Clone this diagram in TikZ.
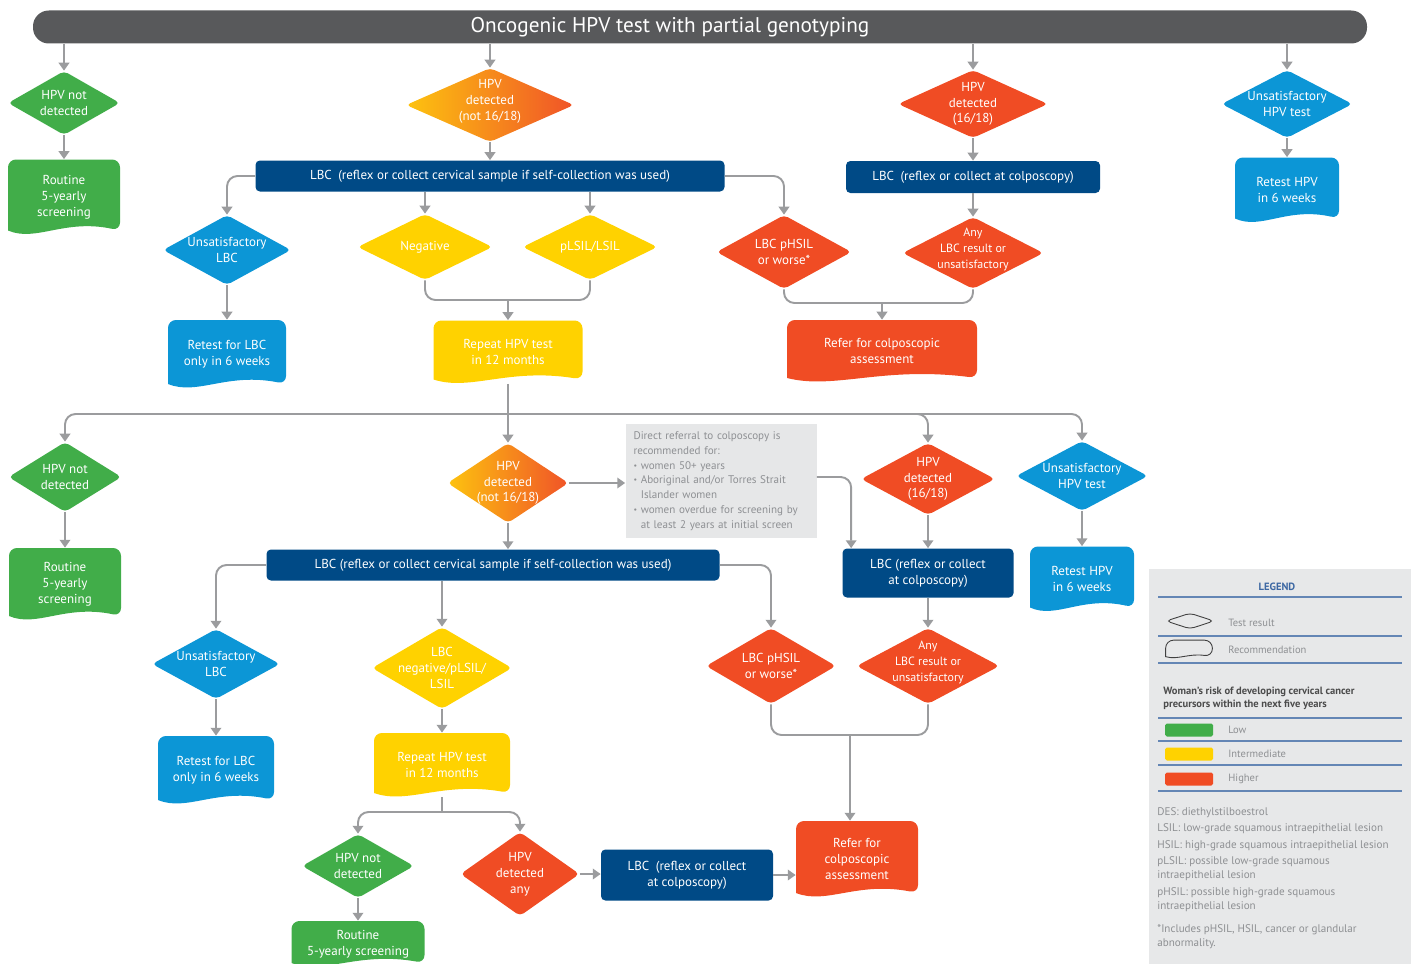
\documentclass[tikz,border=0pt]{standalone}
\usepackage{fontspec}
\setmainfont{PT Sans}
\usepackage{tikz}
\usetikzlibrary{shapes.geometric,arrows.meta,positioning,calc}

\definecolor{barGray}{HTML}{58595B}
\definecolor{lineGray}{HTML}{9B9C9E}
\definecolor{lbcBlue}{HTML}{004A86}
\definecolor{skyBlue}{HTML}{0C96D6}
\definecolor{lowGreen}{HTML}{41AD49}
\definecolor{midYellow}{HTML}{FFD200}
\definecolor{highRed}{HTML}{F04C24}
\definecolor{gradA}{HTML}{FDC30F}
\definecolor{gradB}{HTML}{F05328}
\definecolor{legBg}{HTML}{E7E8E9}
\definecolor{legBlue}{HTML}{3D68A3}
\definecolor{noteText}{HTML}{8E9093}
\definecolor{noteBg}{HTML}{E6E7E8}

\def\u{0.02cm}
\newcommand\nodefont{\fontsize{7.4}{9}\selectfont}
\newcommand\tightfont{\fontsize{6.8}{9}\selectfont}
\newcommand\notefont{\fontsize{6.3}{8.4}\selectfont}
\newcommand\legfont{\fontsize{6}{8}\selectfont}
\newcommand\bul{{\fontsize{4.5}{4.5}\selectfont\raisebox{0.25ex}{\textbullet}}}

% recommendation shape: round top, wavy bottom
\newcommand\wavybox[3][1]{%
  \path[#2] ($(#3.south west)+(0,-4*#1)$) [rounded corners=4.5pt]
    -- (#3.north west) -- (#3.north east)
    -- ($(#3.south east)+(0,-4*#1)$) [sharp corners]
    .. controls ($(#3.south west)!0.5!(#3.south east)+(0,-16*#1)$)
    and ($(#3.south west)!0.25!(#3.south east)+(0,8*#1)$)
    .. ($(#3.south west)+(0,-4*#1)$) -- cycle;}

\begin{document}
\begin{tikzpicture}[x=\u, y=-\u,
  dsize/.style 2 args={minimum width=#1*\u, minimum height=#2*\u},
  test/.style={diamond, inner sep=0pt, rounded corners=2.5pt},
  greentest/.style={test, fill=lowGreen},
  yellowtest/.style={test, fill=midYellow},
  redtest/.style={test, fill=highRed},
  bluetest/.style={test, fill=skyBlue},
  orangetest/.style={test, left color=gradA, right color=gradB},
  every label/.style={text=white, align=center, font=\nodefont},
  rec/.style={rectangle, inner sep=0pt, align=center, text=white, font=\nodefont,
    path picture={\wavybox{fill=#1}{path picture bounding box}}},
  lbc/.style={rectangle, rounded corners=2.5pt, fill=lbcBlue, text=white, align=center, font=\nodefont, inner sep=0pt},
  note/.style={rectangle, fill=noteBg, text=noteText, align=left, font=\notefont, inner sep=0pt, text width=3.5cm},
  titlebar/.style={rectangle, fill=barGray, rounded corners=9pt, text=white, font=\fontsize{12.1}{14}\selectfont},
  arrow/.style={line width=1.1pt, lineGray, rounded corners=6pt, -{Triangle[width=6pt,length=4.5pt]}},
  link/.style={line width=1.1pt, lineGray, rounded corners=6pt},
  legline/.style={line width=0.6pt, legBlue!80},
  legtext/.style={anchor=west, text=noteText, font=\legfont, inner sep=0pt},
  swatch/.style={rectangle, rounded corners=1pt, dsize={48}{13}, inner sep=0pt}
]
\useasboundingbox (0,0) rectangle (1415,963);

% Title
\node[titlebar, dsize={1334}{33}] (title) at (700,27) {\raisebox{-1pt}{Oncogenic HPV test with partial genotyping}\hspace*{1.2cm}};

% First HPV test results
\node[greentest, dsize={112}{64}, label={center:HPV not\\detected}] (nd1) at (64,103) {};
\node[orangetest, dsize={168}{74}, label={[yshift=2pt]center:HPV\\detected\\(not 16/18)}] (hpvo1) at (490,105) {};
\node[redtest, dsize={150}{68}, label={center:HPV\\detected\\(16/18)}] (hpvhi1) at (973,104) {};
\node[bluetest, dsize={131}{68}, label={center:Unsatisfactory\\HPV test}] (unsh1) at (1287,104) {};

\node[rec=lowGreen, dsize={112}{75}] (rout1) at (64,197) {Routine\\5-yearly\\screening};
\node[lbc, dsize={469}{31}] (lbc1) at (490,176) {LBC\enspace(reflex or collect cervical sample if self-collection was used)};
\node[lbc, dsize={254}{32}] (lbc2) at (973,177) {LBC\enspace(reflex or collect at colposcopy)};
\node[rec=skyBlue, dsize={104}{65}] (reth1) at (1287,190) {Retest HPV\\in 6 weeks};

% LBC results
\node[bluetest, dsize={128}{70}, label={center:Unsatisfactory\\LBC}] (unsl1) at (227,250) {};
\node[yellowtest, dsize={135}{66}, label={center:Negative}] (neg1) at (425,247) {};
\node[yellowtest, dsize={135}{66}, label={center:pLSIL/LSIL}] (plsil1) at (590,247) {};
\node[redtest, dsize={135}{74}, label={center:LBC pHSIL\\or worse*}] (phsil1) at (784,252) {};
\node[redtest, dsize={141}{72}, label={[font=\tightfont, yshift=2pt]center:Any\\LBC result or\\unsatisfactory}] (any1) at (973,253) {};

\node[rec=skyBlue, dsize={118}{68}] (retl1) at (227,354) {Retest for LBC\\only in 6 weeks};
\node[rec=midYellow, dsize={149}{63}] (rep1) at (508,352) {Repeat HPV test\\in 12 months};
\node[rec=highRed, dsize={190}{62}] (ref1) at (882,351) {Refer for colposcopic\\assessment};

\coordinate (m1) at (508,300);
\coordinate (m2) at (882,303);
\coordinate (m3) at (508,414);

\foreach \n in {nd1,hpvo1,hpvhi1,unsh1}
  \draw[arrow] (title.south -| \n.north) -- (\n.north);
\draw[arrow] (nd1.south) -- (rout1.north);
\draw[arrow] (hpvo1.south) -- (hpvo1.south |- lbc1.north);
\draw[arrow] (hpvhi1.south) -- (hpvhi1.south |- lbc2.north);
\draw[arrow] (unsh1.south) -- (reth1.north);
\draw[arrow] (lbc1.west) -| (unsl1.north);
\draw[arrow] (lbc1.south -| neg1.north) -- (neg1.north);
\draw[arrow] (lbc1.south -| plsil1.north) -- (plsil1.north);
\draw[arrow] (lbc1.east) -| (phsil1.north);
\draw[arrow] (lbc2.south -| any1.north) -- (any1.north);
\draw[arrow] (unsl1.south) -- (retl1.north);
\draw[link] (neg1.south) |- (m1) -| (plsil1.south);
\draw[arrow] (m1) -- (rep1.north);
\draw[link] (phsil1.south) |- (m2) -| (any1.south);
\draw[arrow] (m2) -- (ref1.north);

% Repeat HPV test results
\node[greentest, dsize={113}{70}, label={center:HPV not\\detected}] (nd2) at (65,477) {};
\node[orangetest, dsize={121}{80}, label={center:HPV\\detected\\(not 16/18)}] (hpvo2) at (508,483) {};
\node[note, dsize={191}{114}] (note) at (721,481) {Direct referral to colposcopy is\\
recommended for:\\
\bul\ women 50+ years\\
\bul\ Aboriginal and/or Torres Strait\\
\phantom{\bul\ }Islander women\\
\bul\ women overdue for screening by\\
\phantom{\bul\ }at least 2 years at initial screen};
\node[redtest, dsize={134}{72}, label={center:HPV\\detected\\(16/18)}] (hpvhi2) at (928,479) {};
\node[bluetest, dsize={132}{70}, label={center:Unsatisfactory\\HPV test}] (unsh2) at (1082,476) {};

\node[rec=lowGreen, dsize={112}{72}] (rout2) at (65,584) {Routine\\5-yearly\\screening};
\node[lbc, dsize={453}{31}] (lbc3) at (493,565) {LBC (reflex or collect cervical sample if self-collection was used)};
\node[lbc, dsize={171}{49}] (lbc4) at (928,573) {LBC (reflex or collect\\at colposcopy)};
\node[rec=skyBlue, dsize={104}{65}] (reth2) at (1082,579) {Retest HPV\\in 6 weeks};

\draw[link] (rep1.south) -- (m3);
\draw[arrow] (m3) -| (nd2.north);
\draw[arrow] (m3) -- (hpvo2.north);
\draw[arrow] (m3) -| (hpvhi2.north);
\draw[arrow] (m3) -| (unsh2.north);
\draw[arrow] (nd2.south) -- (rout2.north);
\draw[arrow] (hpvo2.east) -- (hpvo2.east -| note.west);
\draw[arrow] ([yshift=4*\u]note.east) -| ($(lbc4.north west)+(9,0)$);
\draw[arrow] (hpvo2.south) -- (hpvo2.south |- lbc3.north);
\draw[arrow] (hpvhi2.south) -- (lbc4.north);
\draw[arrow] (unsh2.south) -- (reth2.north);

% LBC results after repeat test
\node[bluetest, dsize={128}{70}, label={center:Unsatisfactory\\LBC}] (unsl2) at (216,664) {};
\node[yellowtest, dsize={140}{82}, label={center:LBC\\negative/pLSIL/\\LSIL}] (lneg2) at (442,668) {};
\node[redtest, dsize={130}{76}, label={center:LBC pHSIL\\or worse*}] (phsil2) at (771,666) {};
\node[redtest, dsize={143}{76}, label={[font=\tightfont, yshift=2pt]center:Any\\LBC result or\\unsatisfactory}] (any2) at (928,666) {};

\node[rec=skyBlue, dsize={116}{68}] (retl2) at (216,770) {Retest for LBC\\only in 6 weeks};
\node[rec=midYellow, dsize={136}{64}] (rep2) at (442,765) {Repeat HPV test\\in 12 months};
\node[rec=highRed, dsize={122}{76}] (ref2) at (857,859) {Refer for\\colposcopic\\assessment};

\coordinate (m4) at (850,735);
\coordinate (m5) at (442,812);

\draw[arrow] (lbc3.west) -| (unsl2.north);
\draw[arrow] (lbc3.south -| lneg2.north) -- (lneg2.north);
\draw[arrow] (lbc3.east) -| (phsil2.north);
\draw[arrow] (lbc4.south) -- (any2.north);
\draw[arrow] (unsl2.south) -- (retl2.north);
\draw[arrow] (lneg2.south) -- (rep2.north);
\draw[link] (phsil2.south) |- (m4) -| (any2.south);
\draw[arrow] (m4) -- (m4 |- ref2.north);

% Third HPV test
\node[greentest, dsize={112}{64}, label={center:HPV not\\detected}] (nd3) at (358,866) {};
\node[redtest, dsize={119}{84}, label={center:HPV\\detected\\any}] (hpva) at (520,874) {};
\node[lbc, dsize={172}{51}] (lbc5) at (687,875) {LBC\enspace(reflex or collect\\at colposcopy)};
\node[rec=lowGreen, dsize={133}{46}] (rout3) at (358,944) {Routine\\5-yearly screening};

\draw[link] (rep2.south) -- (m5);
\draw[arrow] (m5) -| (nd3.north);
\draw[arrow] (m5) -| (hpva.north);
\draw[arrow] (nd3.south) -- (rout3.north);
\draw[arrow] (hpva.east) -- (hpva.east -| lbc5.west);
\draw[arrow] (lbc5.east) -- (lbc5.east -| ref2.west);

% Legend
\node[rectangle, fill=legBg, dsize={262}{400}, inner sep=0pt] (legend) at (1280,769) {};
\node[text=legBlue, font=\bfseries\legfont] (legtitle) at (1277,587) {LEGEND};
\foreach \y in {597,636,663,718,741,765,791}
  \draw[legline] (1158,\y) -- (1402,\y);
\node[test, draw=black!75, line width=0.5pt, dsize={48}{16}] (legtest) at (1190,621) {};
\node[legtext] (legtesttxt) at (1228,623) {Test result};
\node[rectangle, inner sep=0pt, dsize={46}{17}] (legrec) at (1189,649) {};
\wavybox[0.3]{draw=black!75, line width=0.5pt}{legrec}
\node[legtext] (legrectxt) at (1228,650) {Recommendation};
\node[anchor=west, align=left, inner sep=0pt, text=black!70, font=\bfseries\fontsize{6}{7.2}\selectfont] (risk) at (1163,698) {Woman’s risk of developing cervical cancer\\precursors within the next five years};
\node[swatch, fill=lowGreen] (lowsw) at (1189,730) {};
\node[legtext] (lowtxt) at (1228,730) {Low};
\node[swatch, fill=midYellow] (midsw) at (1189,754) {};
\node[legtext] (midtxt) at (1228,754) {Intermediate};
\node[swatch, fill=highRed] (highsw) at (1189,779) {};
\node[legtext] (hightxt) at (1228,779) {Higher};
\node[anchor=north west, align=left, inner sep=0pt, text=noteText, font=\fontsize{6.3}{8}\selectfont] (defs) at (1157,807) {DES: diethylstilboestrol\\[1.4pt]
LSIL: low-grade squamous intraepithelial lesion\\[1.4pt]
HSIL: high-grade squamous intraepithelial lesion\\[1.4pt]
pLSIL: possible low-grade squamous\\
intraepithelial lesion\\[1.4pt]
pHSIL: possible high-grade squamous\\
intraepithelial lesion\\[5pt]
*Includes pHSIL, HSIL, cancer or glandular\\
abnormality.};

\end{tikzpicture}
\end{document}
